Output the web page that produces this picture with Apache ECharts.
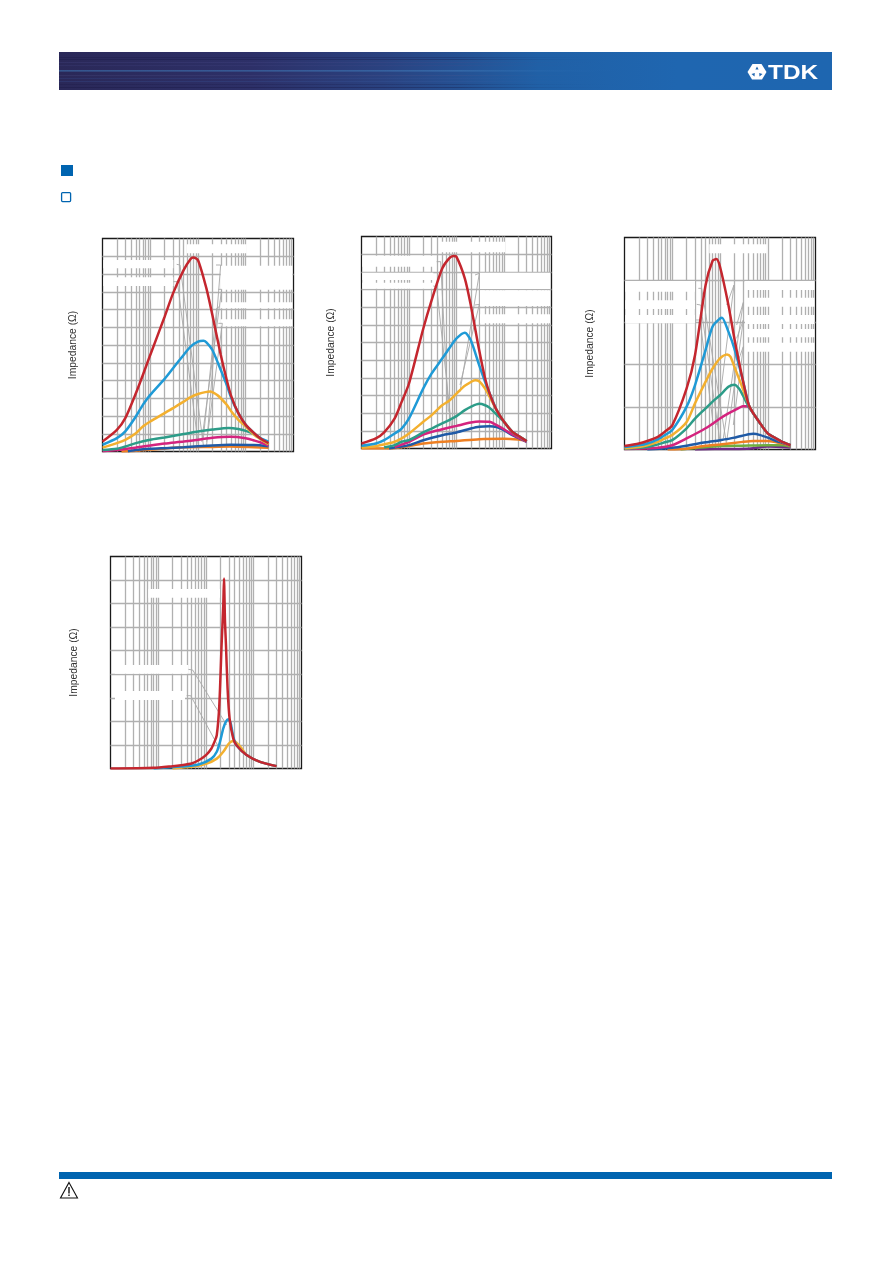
<!DOCTYPE html>
<html><head><meta charset="utf-8">
<style>html,body{margin:0;padding:0;background:#fff}#c{width:892px;height:1263px}</style>
<script src="https://cdn.jsdelivr.net/npm/echarts@6/dist/echarts.min.js"></script>
</head><body><div id="c"></div>
<script>
// ---------- data (frequency in MHz, impedance in ohm) ----------
const yTitle = 'Impedance (Ω)';
const gridFrequencies = [1,2,3,4,5,6,7,8,9,10,20,30,40,50,60,70,80,90,100,200,300,400,500,600,700,800,900,1000,2000,3000,4000,5000,6000,7000,8000,9000,10000];

// chart 1
const c1RedF  = [1,2,3,5,7,10,20,30,50,70,80,100,150,200,300,400,500,700,1000,1500,2000,3000];
const c1RedZ  = [56,122,188,328,431,544,759,891,1022,1085,1093,1078,919,769,544,403,309,216,150,103,75,47];
const c1BlueF = [1,2,3,5,7,10,20,30,50,70,100,130,150,200,300,400,500,700,1000,1500,2000,3000];
const c1BlueZ = [38,75,113,197,263,319,409,469,544,591,619,624,615,572,459,375,300,216,150,103,75,56];
const c1YelF  = [1,2,3,5,7,10,20,30,50,70,100,180,250,300,400,500,700,1000,1500,2000,3000];
const c1YelZ  = [22,47,66,103,141,169,216,244,281,306,324,338,319,300,263,225,178,141,94,71,41];
const c1GrnF  = [1,2,3,5,10,20,50,100,200,440,700,1000,1500,2000,3000];
const c1GrnZ  = [8,15,28,47,66,79,98,113,124,133,127,116,98,75,41];
const c1PnkF  = [1,2,5,10,20,50,100,200,470,1000,1500,2000,3000];
const c1PnkZ  = [2,8,22,34,45,56,66,77,83,75,62,52,34];
const c1NvyF  = [3.4,5,10,20,50,200,470,1500,3000];
const c1NvyZ  = [2,8,15,19,24,34,38,36,30];
const c1OrgF  = [2.5,5,10,50,200,470,1500,3000];
const c1OrgZ  = [0,4,11,24,26,28,24,21];

// chart 2
const c2RedF  = [1,2,3,5,7,10,20,30,50,70,86,100,150,200,300,400,500,700,1000,1500,2000,3000];
const c2RedZ  = [28,57,91,170,264,368,679,840,1019,1076,1089,1085,962,811,557,396,311,217,151,94,72,42];
const c2BlueF = [1,2,3,5,7,10,20,30,50,70,100,150,200,300,400,500,700,1000,1500,2000,3000];
const c2BlueZ = [15,28,47,85,113,170,340,425,509,566,623,655,613,472,377,311,217,151,94,72,42];
const c2YelF  = [1,2,3,5,7,10,20,30,50,70,100,150,250,300,400,500,700,1000,1500,2000,3000];
const c2YelZ  = [6,13,23,38,57,85,151,189,245,270,311,355,387,381,340,292,217,151,94,72,42];
const c2GrnF  = [3,5,7,10,20,30,50,70,100,150,200,300,400,500,700,1000,1500,2000,3000];
const c2GrnZ  = [6,19,38,47,91,113,142,160,183,217,236,253,245,230,192,151,94,72,42];
const c2PnkF  = [5,10,20,30,50,100,200,300,500,700,1000,1500,2000,3000];
const c2PnkZ  = [9,38,79,94,109,128,147,153,151,132,109,79,62,38];
const c2NvyF  = [3.8,10,20,50,100,200,300,500,700,1000,1500,2000,3000];
const c2NvyZ  = [0,19,47,75,91,113,123,126,121,104,75,60,38];
const c2OrgF  = [1,3.8,20,50,100,300,1000,2000,3000];
const c2OrgZ  = [0,0,28,38,43,53,55,51,45];

// chart 3
const c3RedF  = [1,2,3,5,7,10,20,30,50,70,84,100,150,200,300,400,500,700,1000,1500,2000,3000];
const c3RedZ  = [8,14,20,30,42,57,144,223,388,445,449,431,341,262,164,105,85,61,38,26,18,10];
const c3BlueF = [1,2,3,5,7,10,20,30,50,70,100,110,150,200,300,400,500,700,1000,1500,2000,3000];
const c3BlueZ = [6,10,14,24,34,46,101,152,235,290,309,311,278,238,164,105,85,61,38,26,18,10];
const c3YelF  = [1,2,3,5,7,10,20,30,50,70,100,140,165,200,300,400,500,700,1000,1500,2000,3000];
const c3YelZ  = [3,6,10,18,26,34,65,109,160,191,215,224,219,195,144,105,85,61,38,26,18,10];
const c3GrnF  = [1,3,5,7,10,20,30,50,70,100,150,200,250,300,400,500,700,1000,1500,2000,3000];
const c3GrnZ  = [2,6,12,17,22,50,73,97,113,128,148,153,144,128,101,85,61,38,26,18,10];
const c3PnkF  = [1,5,10,20,50,100,150,240,300,370,500,700,1000,1500,2000,3000];
const c3PnkZ  = [1,4,10,26,50,73,85,97,102,102,85,61,38,26,18,9];
const c3NvyF  = [3,10,20,50,100,200,400,500,700,1000,1500,2000,3000];
const c3NvyZ  = [0,4,9,17,22,28,36,37,34,28,20,16,10];
const c3OrgF  = [8,20,50,100,300,500,1000,2000,3000];
const c3OrgZ  = [0,2,9,12,18,20,20,14,9];
const c3LgrF  = [15,100,300,1000,2000,3000];
const c3LgrZ  = [0,8,9,10,10,7];
const c3PurF  = [30,75,370,1000,2000,3000];
const c3PurZ  = [0,1,2,7,6,5];

// chart 4
const c4RedF  = [1,8,20,30,50,70,100,130,150,168,190,212,230,238,250,262,283,312,373,435,708,1350,3000];
const c4RedZ  = [0,3,10,14,21,35,57,85,113,141,269,524,693,807,623,524,340,212,127,99,57,28,10];
const c4BlueF = [8,30,70,130,168,196,230,260,293,330,373,435,708,1350,3000];
const c4BlueZ = [0,8,17,42,71,113,170,198,209,191,134,99,57,28,10];
const c4YelF  = [20,54,103,168,230,293,343,385,475,560,708,1350,3000];
const c4YelZ  = [0,8,21,42,71,103,115,117,102,85,57,28,10];

// ---------- styles ----------
const RED='#c4262e',BLUE='#1f9ad6',YEL='#f3b02f',GRN='#2c9c88',PNK='#d4237e',NVY='#1f5aa6',ORG='#ee7f22',LGR='#6fae3f',PUR='#6f2a86';
const zip=(f,z)=>f.map((v,i)=>[v,z[i]]);

// chart frame + y scale
const charts=[
 {l:102.5,t:238.5,w:191,h:213,max:1200,step:100,gap:24,series:[[c1OrgF,c1OrgZ,ORG],[c1NvyF,c1NvyZ,NVY],[c1PnkF,c1PnkZ,PNK],[c1GrnF,c1GrnZ,GRN],[c1YelF,c1YelZ,YEL],[c1BlueF,c1BlueZ,BLUE],[c1RedF,c1RedZ,RED]]},
 {l:361.5,t:236.5,w:190,h:212,max:1200,step:100,gap:25,series:[[c2OrgF,c2OrgZ,ORG],[c2NvyF,c2NvyZ,NVY],[c2PnkF,c2PnkZ,PNK],[c2GrnF,c2GrnZ,GRN],[c2YelF,c2YelZ,YEL],[c2BlueF,c2BlueZ,BLUE],[c2RedF,c2RedZ,RED]]},
 {l:624.5,t:237.5,w:191,h:212,max:500,step:100,gap:29,series:[[c3PurF,c3PurZ,PUR],[c3LgrF,c3LgrZ,LGR],[c3OrgF,c3OrgZ,ORG],[c3NvyF,c3NvyZ,NVY],[c3PnkF,c3PnkZ,PNK],[c3GrnF,c3GrnZ,GRN],[c3YelF,c3YelZ,YEL],[c3BlueF,c3BlueZ,BLUE],[c3RedF,c3RedZ,RED]]},
 {l:110.5,t:556.5,w:191,h:212,max:900,step:100,gap:31,series:[[c4YelF,c4YelZ,YEL],[c4BlueF,c4BlueZ,BLUE],[c4RedF,c4RedZ,RED]]}
];

const grid=[],xAxis=[],yAxis=[],series=[];
const gridLine={show:true,showMinLine:false,showMaxLine:false,lineStyle:{color:'#b0b0b0',width:1.3}};
charts.forEach((c,i)=>{
  grid.push({left:c.l,top:c.t,width:c.w,height:c.h,show:true,backgroundColor:'#fff',borderColor:'#1a1a1a',borderWidth:1.3,containLabel:false});
  xAxis.push({type:'log',gridIndex:i,min:1,max:10000,logBase:10,
    axisLine:{show:false},axisLabel:{show:false},
    axisTick:{show:false,customValues:gridFrequencies},
    splitLine:gridLine,minorTick:{show:false},minorSplitLine:{show:false}});
  yAxis.push({type:'value',gridIndex:i,min:0,max:c.max,interval:c.step,
    name:yTitle,nameLocation:'middle',nameRotate:90,nameGap:c.gap,
    nameTextStyle:{fontFamily:'Liberation Sans',fontSize:10.3,color:'#333'},
    axisLine:{show:false},axisTick:{show:false},axisLabel:{show:false},
    splitLine:gridLine});
  c.series.forEach(s=>series.push({type:'line',xAxisIndex:i,yAxisIndex:i,data:zip(s[0],s[1]),
    showSymbol:false,smooth:0.25,silent:true,clip:true,z:3,animation:false,lineStyle:{color:s[2],width:2.5}}));
});

// ---------- page furniture (whited-out label bands, leader lines, header) ----------
const g=[];
const band=(ox,oy,x0,y0,x1,y1)=>g.push({type:'rect',z:1,silent:true,shape:{x:ox+x0/3,y:oy+y0/3,width:(x1-x0)/3,height:(y1-y0)/3},style:{fill:'#fff'}});
const leader=(ox,oy,pts)=>g.push({type:'polyline',z:1,silent:true,shape:{points:pts.map(p=>[ox+p[0]/3,oy+p[1]/3])},style:{stroke:'#a8a8a8',lineWidth:0.9,fill:null}});

// chart 1
[[130,105,340,130],[130,157,340,183],[482,122,697,194],[482,232,697,250],[482,283,697,304],[380,58,560,85]].forEach(b=>band(60,225,...b));
[[[350,118],[360,120],[430,660]],[[340,170],[352,170],[415,660]],[[468,120],[482,120],[440,660]],[[475,193],[485,193],[425,650]],[[478,245],[470,250],[430,640]],[[475,295],[487,295],[440,650]]].forEach(p=>leader(60,225,p));
// chart 2
[[127,92,340,125],[127,143,340,165],[127,173,340,191],[480,143,690,192],[480,196,690,243],[480,268,690,295],[360,50,555,82]].forEach(b=>band(320,225,...b));
[[[350,110],[362,110],[385,560]],[[340,183],[350,185],[395,610]],[[465,150],[478,145],[420,500]],[[465,240],[478,238],[420,480]]].forEach(p=>leader(320,225,p));
// chart 3
[[136,168,345,200],[136,226,345,252],[136,270,345,295],[495,168,703,195],[495,218,703,245],[495,270,703,297],[495,312,703,337],[495,353,703,380],[388,58,560,85]].forEach(b=>band(580,225,...b));
[[[355,190],[365,190],[440,660]],[[350,238],[362,240],[420,650]],[[348,285],[360,285],[400,600]],[[440,240],[462,180],[410,600]],[[470,300],[490,232],[430,640]],[[470,340],[490,285],[440,650]],[[470,420],[490,365],[460,600]]].forEach(p=>leader(580,225,p));
// chart 4
[[265,132,480,158],[165,360,385,386],[165,438,375,465]].forEach(b=>band(60,545,...b));
[[[385,373],[398,375],[500,540]],[[380,452],[392,452],[478,610]]].forEach(p=>leader(60,545,p));

// header
g.push({type:'rect',z:1,silent:true,shape:{x:59,y:52,width:773,height:38},style:{fill:{type:'linear',x:0,y:0,x2:1,y2:0,colorStops:[
  {offset:0,color:'#2a2858'},{offset:0.25,color:'#2d3068'},{offset:0.42,color:'#2a4280'},{offset:0.62,color:'#2060a6'},{offset:0.8,color:'#1f66b0'},{offset:1,color:'#1e66b0'}]}}});
[[57,0.25,'#12103a'],[59,0.3,'#12103a'],[62,0.25,'#4a4a8a'],[65,0.2,'#4a4a8a'],[70,0.55,'#3f7ab8'],[71,0.35,'#3f7ab8'],[75,0.2,'#5a5a90'],[78,0.2,'#3a5aa0'],[81,0.25,'#3a5aa0'],[84,0.2,'#12103a'],[87,0.3,'#12103a']].forEach(s=>{
  g.push({type:'rect',z:1,silent:true,shape:{x:59,y:s[0],width:570,height:1},style:{fill:{type:'linear',x:0,y:0,x2:1,y2:0,colorStops:[{offset:0,color:s[2]},{offset:0.7,color:s[2]},{offset:1,color:'rgba(31,100,175,0)'}]},opacity:s[1]}});
});
// logo: rounded hexagon with three inner cut-outs, then wordmark
g.push({type:'polygon',z:2,silent:true,shape:{points:[[752.5,64],[761.5,64],[766.5,72],[762,79.5],[752,79.5],[747.5,72]]},style:{fill:'#fff'}});
[[[757,66.5],[758.6,69.5],[755.4,69.5]],[[751.5,74],[754.8,73],[754.5,76.5]],[[762.5,74],[759.2,73],[759.5,76.5]]].forEach(p=>g.push({type:'polygon',z:2,silent:true,shape:{points:p},style:{fill:'#1f66b0'}}));
g.push({type:'text',z:2,silent:true,x:768,y:62.5,scaleX:1.16,style:{text:'TDK',fill:'#fff',font:'bold 21px "Liberation Sans"'}});
// bullets
g.push({type:'rect',z:1,silent:true,shape:{x:61,y:165,width:12,height:11},style:{fill:'#0064b0'}});
g.push({type:'rect',z:1,silent:true,shape:{x:61.6,y:192.6,width:9,height:9,r:1},style:{fill:'#fff',stroke:'#0064b0',lineWidth:1.3}});
// footer
g.push({type:'rect',z:1,silent:true,shape:{x:59,y:1172,width:773,height:7},style:{fill:'#0064b0'}});
g.push({type:'polygon',z:1,silent:true,shape:{points:[[69,1182.5],[77.5,1198],[60.5,1198]]},style:{fill:'#fff',stroke:'#111',lineWidth:1.1}});
g.push({type:'rect',z:1,silent:true,shape:{x:68.3,y:1187,width:1.4,height:6.5},style:{fill:'#111'}});
g.push({type:'rect',z:1,silent:true,shape:{x:68.3,y:1194.5,width:1.4,height:1.6},style:{fill:'#111'}});

const chart=echarts.init(document.getElementById('c'),null,{renderer:'canvas'});
chart.setOption({animation:false,backgroundColor:'#fff',grid,xAxis,yAxis,series,graphic:{elements:g}});
</script></body></html>
